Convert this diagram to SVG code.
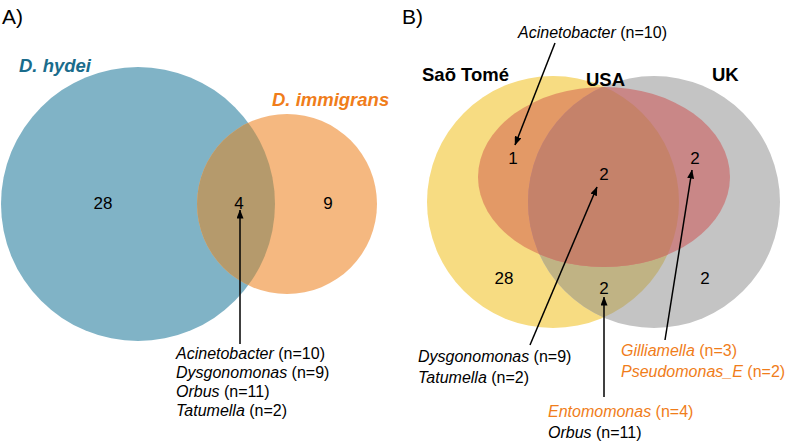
<svg xmlns="http://www.w3.org/2000/svg" width="789" height="442" viewBox="0 0 789 442">
<defs>
<marker id="ah" markerWidth="9" markerHeight="7" refX="8.5" refY="3.5" orient="auto" markerUnits="userSpaceOnUse">
<path d="M0,0 L9,3.5 L0,7 Z" fill="#000"/>
</marker>
<clipPath id="cpBlue"><circle cx="138" cy="204" r="137"/></clipPath>
<clipPath id="cpYel"><circle cx="553" cy="202" r="126"/></clipPath>
<clipPath id="cpGray"><circle cx="654" cy="202" r="126"/></clipPath>
</defs>
<style>
text{font-family:"Liberation Sans",Arial,sans-serif;fill:#000}
.num{font-size:17px;text-anchor:middle}
.lab{font-size:16px}
.it{font-style:italic}
.org{fill:#f07d1a}
.set{font-size:18.5px;font-weight:bold}
.panel{font-size:21px}
.con{stroke:#000;stroke-width:1.5;fill:none;marker-end:url(#ah)}
</style>
<text class="panel" x="2" y="24">A)</text>
<text class="panel" x="402" y="24">B)</text>
<g id="hydei">
<circle cx="138" cy="204" r="137" fill="#80b3c6"/>
<text class="set it" x="19" y="72" style="fill:#1a6c8c">D. hydei</text>
<text class="num" x="103" y="209">28</text>
</g>
<g id="immigrans">
<circle cx="287" cy="204" r="90" fill="#f5b880"/>
<circle cx="287" cy="204" r="90" fill="#b59a6c" clip-path="url(#cpBlue)"/>
<text class="set it org" x="272" y="106">D. immigrans</text>
<text class="num" x="239" y="209">4</text>
<text class="num" x="328" y="209">9</text>
</g>
<g id="saotome">
<circle cx="553" cy="202" r="126" fill="#f7dc82"/>
<text class="set" x="422" y="81">Saõ Tomé</text>
<text class="num" x="504" y="284">28</text>
</g>
<g id="uk">
<circle cx="654" cy="202" r="126" fill="#c4c4c4"/>
<circle cx="654" cy="202" r="126" fill="#c0b384" clip-path="url(#cpYel)"/>
<text class="set" x="712" y="81">UK</text>
<text class="num" x="705" y="284">2</text>
<text class="num" x="604" y="294">2</text>
</g>
<g id="usa">
<ellipse cx="604" cy="177" rx="126" ry="90" fill="#e39966" clip-path="url(#cpYel)"/>
<ellipse cx="604" cy="177" rx="126" ry="90" fill="#c98787" clip-path="url(#cpGray)"/>
<g clip-path="url(#cpYel)"><ellipse cx="604" cy="177" rx="126" ry="90" fill="#c5826a" clip-path="url(#cpGray)"/></g>
<text class="set" x="586" y="86">USA</text>
<text class="num" x="513" y="164">1</text>
<text class="num" x="604" y="180">2</text>
<text class="num" x="695" y="164">2</text>
</g>
<g id="connectors">
<line class="con" x1="240" y1="344" x2="240" y2="210"/>
<line class="con" x1="555" y1="43" x2="515" y2="145"/>
<line class="con" x1="530" y1="345" x2="597" y2="187"/>
<line class="con" x1="604" y1="397" x2="604" y2="297"/>
<line class="con" x1="665" y1="340" x2="692" y2="170"/>
</g>
<g id="labelsA">
<text class="lab" x="176" y="359"><tspan class="it">Acinetobacter</tspan> (n=10)</text>
<text class="lab" x="176" y="378"><tspan class="it">Dysgonomonas</tspan> (n=9)</text>
<text class="lab" x="176" y="397"><tspan class="it">Orbus</tspan> (n=11)</text>
<text class="lab" x="176" y="416"><tspan class="it">Tatumella</tspan> (n=2)</text>
</g>
<g id="labelsB">
<text class="lab" x="518" y="38"><tspan class="it">Acinetobacter</tspan> (n=10)</text>
<text class="lab" x="418" y="362"><tspan class="it">Dysgonomonas</tspan> (n=9)</text>
<text class="lab" x="418" y="383"><tspan class="it">Tatumella</tspan> (n=2)</text>
<text class="lab org" x="621" y="356"><tspan class="it">Gilliamella</tspan> (n=3)</text>
<text class="lab org" x="621" y="377"><tspan class="it">Pseudomonas_E</tspan> (n=2)</text>
<text class="lab org" x="548" y="417"><tspan class="it">Entomomonas</tspan> (n=4)</text>
<text class="lab" x="548" y="438"><tspan class="it">Orbus</tspan> (n=11)</text>
</g>
</svg>
